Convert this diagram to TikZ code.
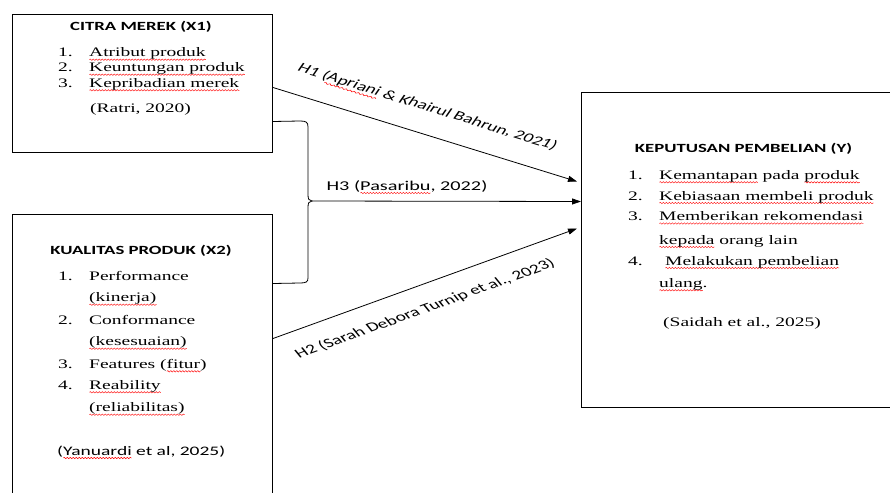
\documentclass[tikz,border=0pt]{standalone}
\usepackage{fontspec}
\setmainfont{Liberation Serif}[FakeStretch=1.5]
\newfontfamily\calfont{Carlito}[FakeStretch=1.5]
\newfontfamily\calplain{Carlito}
\usetikzlibrary{arrows.meta,decorations.pathmorphing}
\newsavebox\sqbox
\newcommand\sq[1]{\sbox\sqbox{#1}\rlap{\raisebox{-3pt}{\tikz[baseline=0pt,x=1pt,y=1pt]\draw[red, line width=0.45pt, decorate, decoration={snake, amplitude=0.7pt, segment length=3pt}] (0,0) -- (\wd\sqbox,0);}}\usebox\sqbox}
% rotate first, then stretch horizontally (as in the reference)
\newcommand\slanted[2]{\scalebox{1.5}[1]{\rotatebox{#1}{\calplain\fontsize{13}{15}\selectfont #2}}}
\tikzset{
  box/.style={draw, line width=1pt, inner sep=0pt, anchor=north west},
  tx/.style={anchor=base west, inner sep=0pt, font=\fontsize{13}{15}\selectfont},
  hd/.style={anchor=base, inner sep=0pt, font=\calfont\bfseries\fontsize{12.5}{15}\selectfont},
  lbl/.style={inner sep=0pt, font=\calfont\fontsize{13.5}{16}\selectfont},
  conn/.style={line width=0.8pt, -{Triangle[length=9pt,width=6pt]}},
  brc/.style={line width=0.8pt}
}
\begin{document}
\begin{tikzpicture}[x=1pt,y=-1pt]
\useasboundingbox (0,0) rectangle (890,492);
% boxes
\node[box, minimum width=260pt, minimum height=138pt] (x1) at (12,14) {};
\node[box, minimum width=260pt, minimum height=290pt] (x2) at (12,214) {};
\node[box, minimum width=314pt, minimum height=315pt] (y) at (581,92) {};
% X1 texts
\node[hd] (x1t) at (141,30.7) {CITRA MEREK (X1)};
\node[tx] (a1) at (58,56.7) {1.};
\node[tx] (a1t) at (89,56.7) {\sq{Atribut produk}};
\node[tx] (a2) at (58,71.7) {2.};
\node[tx] (a2t) at (89,71.7) {\sq{Keuntungan produk}};
\node[tx] (a3) at (58,87.3) {3.};
\node[tx] (a3t) at (89,87.3) {\sq{Kepribadian merek}};
\node[tx] (a4) at (90,112.7) {(Ratri, 2020)};
% X2 texts
\node[hd] (x2t) at (141,254.3) {KUALITAS PRODUK (X2)};
\node[tx] (b1) at (58,280) {1.};
\node[tx] (b1t) at (89,280) {Performance};
\node[tx] (b1u) at (89,301.7) {\sq{(kinerja)}};
\node[tx] (b2) at (58,324) {2.};
\node[tx] (b2t) at (89,324) {Conformance};
\node[tx] (b2u) at (89,345.7) {\sq{(kesesuaian)}};
\node[tx] (b3) at (58,368.3) {3.};
\node[tx] (b3t) at (89,368.3) {Features (\sq{fitur})};
\node[tx] (b4) at (58,389.3) {4.};
\node[tx] (b4t) at (89,389.3) {\sq{Reability}};
\node[tx] (b4u) at (89,411.7) {\sq{(reliabilitas)}};
\node[tx, font=\calfont\fontsize{13}{15}\selectfont] (b5) at (57,455) {(\sq{Yanuardi} et al, 2025)};
% Y texts
\node[hd] (yt) at (743.5,152.7) {KEPUTUSAN PEMBELIAN (Y)};
\node[tx] (c1) at (628,179.3) {1.};
\node[tx] (c1t) at (659,179.3) {\sq{Kemantapan} pada \sq{produk}};
\node[tx] (c2) at (628,200) {2.};
\node[tx] (c2t) at (659,200) {\sq{Kebiasaan membeli produk}};
\node[tx] (c3) at (628,220.5) {3.};
\node[tx] (c3t) at (659,220.5) {\sq{Memberikan rekomendasi}};
\node[tx] (c3u) at (659,244) {\sq{kepada} orang lain};
\node[tx] (c4) at (628,265) {4.};
\node[tx] (c4t) at (665,265) {\sq{Melakukan pembelian}};
\node[tx] (c4u) at (659,287.3) {\sq{ulang}.};
\node[tx] (c5) at (663,326) {(Saidah et al., 2025)};
% connectors
\draw[conn] ([yshift=-4pt]x1.east) -- ([xshift=-4pt,yshift=68.5pt]y.west);
\draw[conn] ([yshift=21pt]x2.east) -- ([xshift=-4pt,yshift=21.5pt]y.west);
% brace H3
\coordinate (tip) at (312,201);
\draw[brc] ([yshift=-38pt]x1.east) -- (300,121) .. controls (306,121) and (308,122) .. (308,127)
  -- (308,195) .. controls (308,199) and (309,201) .. (tip)
  .. controls (309,201) and (308,203) .. (308,207) -- (308,278)
  .. controls (308,282) and (306,283) .. (300,283) -- ([yshift=76pt]x2.east);
\draw[conn] (tip) -- ([yshift=48.5pt]y.west);
% labels
\node[inner sep=0pt] (h1) at (427,108) {\slanted{-24.8}{H1 (\sq{Apriani} \& Khairul Bahrun, 2021)}};
\node[lbl, anchor=base] (h3) at (407,190) {H3 (\sq{Pasaribu}, 2022)};
\node[inner sep=0pt] (h2) at (425,309) {\slanted{28.4}{H2 (Sarah Debora Turnip et al., 2023)}};
\end{tikzpicture}
\end{document}
